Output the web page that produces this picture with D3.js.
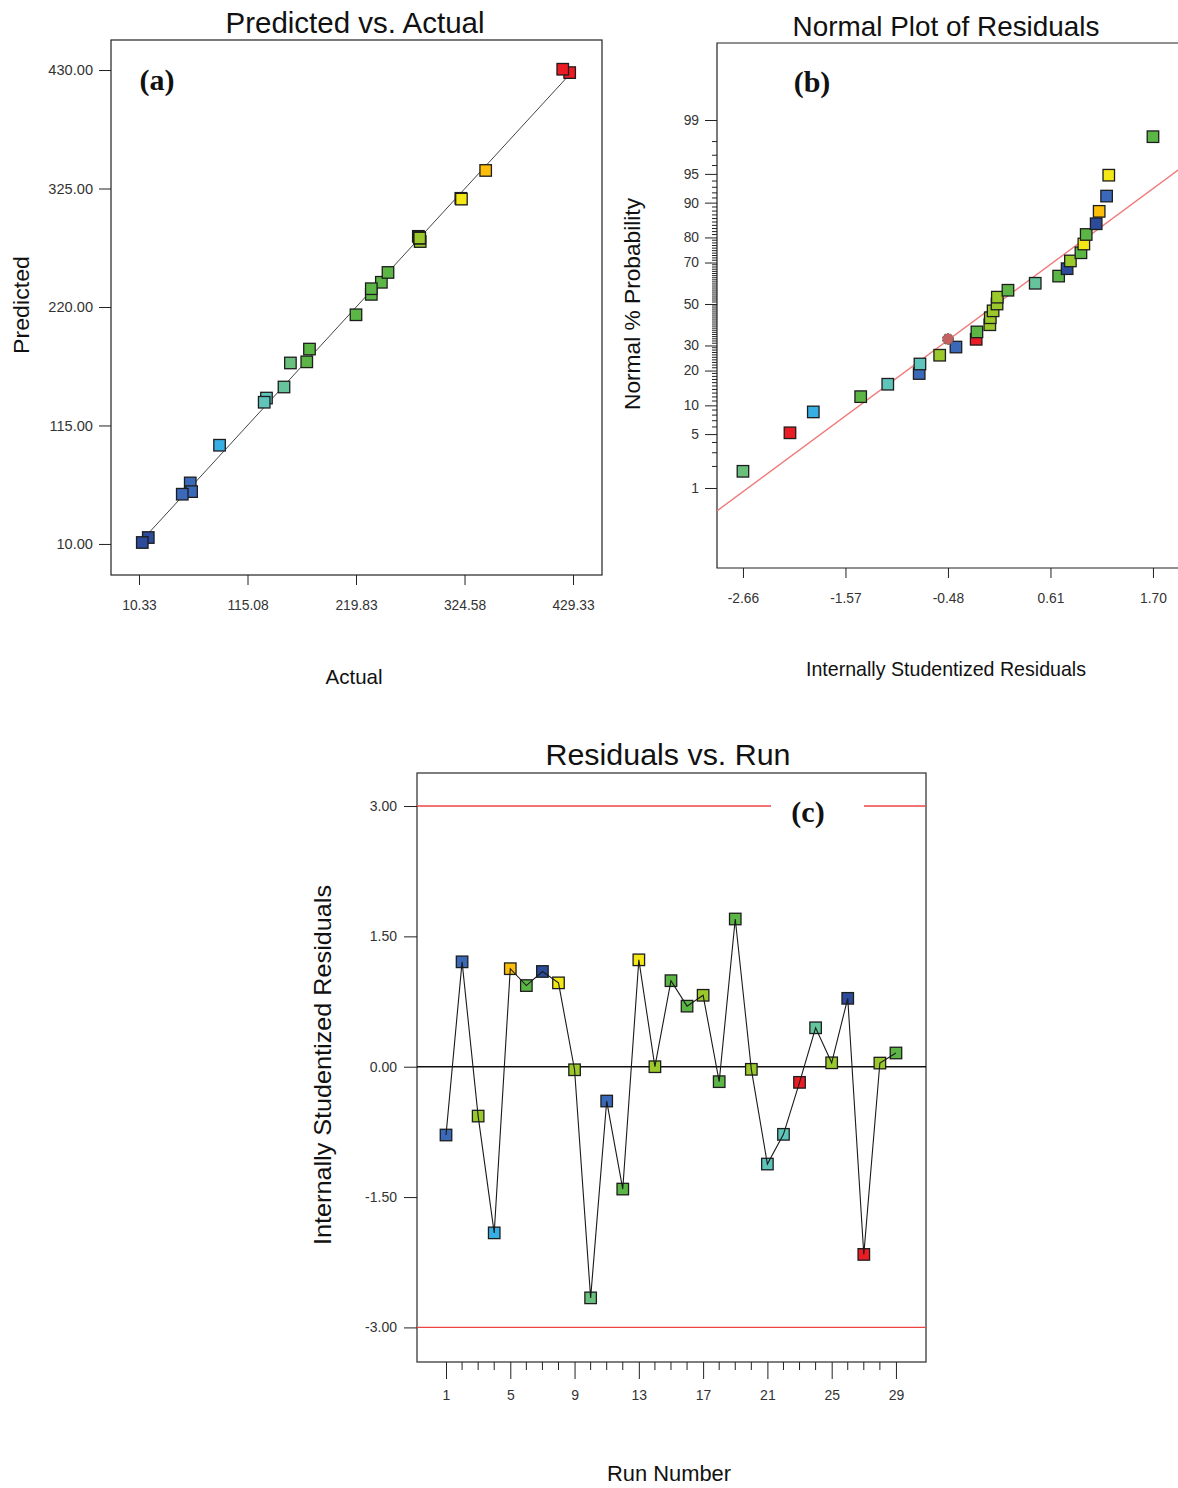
<!DOCTYPE html>
<html><head><meta charset="utf-8">
<script src="https://cdn.jsdelivr.net/npm/d3@7"></script>
<style>
body{margin:0;background:#fff}
svg{display:block}
text{font-family:"Liberation Sans",Arial,sans-serif}
</style>
</head><body>
<svg id="chart" width="1178" height="1488"></svg>
<script>
// ---------------- DATA ----------------
const runNumbers = [1,2,3,4,5,6,7,8,9,10,11,12,13,14,15,16,17,18,19,20,21,22,23,24,25,26,27,28,29];
const runResiduals = [-0.786,1.207,-0.568,-1.912,1.128,0.934,1.096,0.965,-0.035,-2.66,-0.395,-1.408,1.23,0.0,0.99,0.697,0.822,-0.172,1.70,-0.03,-1.12,-0.778,-0.18,0.448,0.045,0.787,-2.16,0.042,0.158];
const runColorGroup = ["blue","blue","yellowGreen","sky","orange","green","darkBlue","yellow","yellowGreen","mint","blue","green","yellow","yellowGreen","green","green","yellowGreen","green","green","yellowGreen","teal","teal","red","seaGreen","yellowGreen","darkBlue","red","yellowGreen","green"];
const actualValues = [59.8,61.1,280.0,88.1,345.0,244.3,19.3,321.0,281.0,156.5,52.1,174.9,321.6,281.2,234.6,250.7,281.8,172.3,219.8,281.0,133.4,131.2,426.1,150.3,281.3,13.5,419.4,281.3,234.6];
const predictedValues = [64.1,56.4,282.6,97.5,341.0,241.9,15.7,316.3,281.3,170.4,54.1,182.7,315.6,281.2,231.2,250.6,278.0,171.4,213.1,281.4,139.3,135.6,427.7,149.1,281.0,11.3,430.7,281.1,236.2];
const groupColors = {darkBlue:"#2d4b9b",blue:"#3b69b9",sky:"#38afe4",teal:"#5fc4ba",seaGreen:"#66c49c",mint:"#6abf7c",green:"#5cb646",yellowGreen:"#9bc82a",yellow:"#f3e715",orange:"#fcbe0a",red:"#ec1c24"};

// panel (b): normal % probability for each rank of sorted residuals
const normalPercent = [1.72,5.17,8.62,12.07,15.52,18.97,22.41,25.86,29.31,32.76,36.21,39.66,43.10,46.55,50.00,53.45,56.90,60.34,63.79,67.24,70.69,74.14,77.59,81.03,84.48,87.93,91.38,94.83,98.28];
const fitLineResidual = [-2.936, 2.147];
const fitLinePercent = [0.445, 96.8];
const markerResidual = -0.48, markerPercent = 32.9;

// tick labels
const aXTicks = [10.33,115.08,219.83,324.58,429.33];
const aYTicks = [10,115,220,325,430];
const diagLine = [10.33,429.33];
const bXTicks = [-2.66,-1.57,-0.48,0.61,1.70];
const bYMajor = [1,5,10,20,30,50,70,80,90,95,99];
const bYMinor = d3.range(2,99).filter(p => !bYMajor.includes(p));
const cXMajor = [1,5,9,13,17,21,25,29];
const cYTicks = [3,1.5,0,-1.5,-3];
const limitValues = [3,-3];

// ---------------- HELPERS ----------------
function probit(p){
  const a=[-3.969683028665376e+01,2.209460984245205e+02,-2.759285104469687e+02,1.383577518672690e+02,-3.066479806614716e+01,2.506628277459239e+00];
  const b=[-5.447609879822406e+01,1.615858368580409e+02,-1.556989798598866e+02,6.680131188771972e+01,-1.328068155288572e+01];
  const c=[-7.784894002430293e-03,-3.223964580411365e-01,-2.400758277161838e+00,-2.549671361984919e+00,4.374664141464968e+00,2.938163982698783e+00];
  const d=[7.784695709041462e-03,3.224671290700398e-01,2.445134137142996e+00,3.754408661907416e+00];
  const pl=0.02425, ph=1-pl; let q,r;
  if(p<pl){q=Math.sqrt(-2*Math.log(p));return (((((c[0]*q+c[1])*q+c[2])*q+c[3])*q+c[4])*q+c[5])/((((d[0]*q+d[1])*q+d[2])*q+d[3])*q+1);}
  if(p>ph){q=Math.sqrt(-2*Math.log(1-p));return -(((((c[0]*q+c[1])*q+c[2])*q+c[3])*q+c[4])*q+c[5])/((((d[0]*q+d[1])*q+d[2])*q+d[3])*q+1);}
  q=p-0.5;r=q*q;return (((((a[0]*r+a[1])*r+a[2])*r+a[3])*r+a[4])*r+a[5])*q/(((((b[0]*r+b[1])*r+b[2])*r+b[3])*r+b[4])*r+1);
}
const svg = d3.select("#chart");
function label(x,y,s,size,len,opts={}){
  const t = svg.append("text").attr("x",x).attr("y",y).attr("text-anchor","middle")
    .attr("font-size",size).attr("fill",opts.fill||"#111").text(s);
  if(len) t.attr("textLength",len).attr("lengthAdjust","spacingAndGlyphs");
  if(opts.rotate) t.attr("x",0).attr("y",0).attr("transform",`translate(${x},${y}) rotate(-90)`);
  if(opts.serif) t.style("font-family",'"Liberation Serif","Times New Roman",serif').attr("font-weight","bold");
  return t;
}
function styleAxis(g,size){
  g.select(".domain").remove();
  g.selectAll(".tick line").attr("stroke","#222");
  g.selectAll(".tick text").attr("fill","#333").attr("font-size",size).style("font-family",'"Liberation Sans",Arial,sans-serif');
}
const fmt2 = d => d.toFixed(2);
const SQ = 11.5;
function squares(g, data, xs, ys, xf, yf){
  g.selectAll("rect.pt").data(data).join("rect").attr("class","pt")
    .attr("x",d=>xs(xf(d))-SQ/2).attr("y",d=>ys(yf(d))-SQ/2)
    .attr("width",SQ).attr("height",SQ)
    .attr("fill",d=>groupColors[d.group]).attr("stroke","#1d1d1d").attr("stroke-width",1.3);
}
const runs = runNumbers.map((n,i)=>({run:n,res:runResiduals[i],group:runColorGroup[i],act:actualValues[i],pred:predictedValues[i]}));

// ---------------- PANEL (a) ----------------
{
  const ax = d3.scaleLinear().domain([-16.7,457.3]).range([111,602]);
  const ay = d3.scaleLinear().domain([-17.5,456.6]).range([575,40]);
  const g = svg.append("g");
  g.append("rect").attr("x",ax.range()[0]).attr("y",ay.range()[1]).attr("width",ax.range()[1]-ax.range()[0]).attr("height",ay.range()[0]-ay.range()[1]).attr("fill","none").attr("stroke","#222").attr("stroke-width",1.2);
  const gx = g.append("g").attr("transform",`translate(0,${ay.range()[0]})`).call(d3.axisBottom(ax).tickValues(aXTicks).tickSize(10).tickPadding(15).tickFormat(fmt2));
  styleAxis(gx,13.8);
  const gy = g.append("g").attr("transform",`translate(${ax.range()[0]},0)`).call(d3.axisLeft(ay).tickValues(aYTicks).tickSize(12).tickPadding(6).tickFormat(fmt2));
  styleAxis(gy,14.6);
  g.append("line").attr("x1",ax(diagLine[0])).attr("y1",ay(diagLine[0])).attr("x2",ax(diagLine[1])).attr("y2",ay(diagLine[1])).attr("stroke","#444").attr("stroke-width",1);
  squares(g, runs, ax, ay, d=>d.act, d=>d.pred);
  label(355,33,"Predicted vs. Actual",29,259);
  label(354,684,"Actual",21,57);
  label(29,305,"Predicted",22,98,{rotate:true});
  label(157,90,"(a)",30,null,{serif:true});
}

// ---------------- PANEL (b) ----------------
{
  const bx = d3.scaleLinear().domain([-2.936,2.147]).range([717,1195]);
  const bz = d3.scaleLinear().domain([-3.338,3.30]).range([568,43]);
  const g = svg.append("g");
  const [L,R] = bx.range(), [B,T] = bz.range();
  g.append("path").attr("d",`M${R},${T}H${L}V${B}H${R}`).attr("fill","none").attr("stroke","#222").attr("stroke-width",1.2);
  const gx = g.append("g").attr("transform",`translate(0,${B})`).call(d3.axisBottom(bx).tickValues(bXTicks).tickSize(10).tickPadding(15).tickFormat(fmt2));
  styleAxis(gx,13.8);
  const gy = g.append("g").attr("transform",`translate(${L},0)`).call(d3.axisLeft(bz).tickValues(bYMajor.map(p=>probit(p/100))).tickSize(12).tickPadding(6).tickFormat((d,i)=>bYMajor[i]));
  styleAxis(gy,13.8);
  g.append("g").selectAll("line").data(bYMinor).join("line")
    .attr("x1",L-5).attr("x2",L).attr("y1",p=>bz(probit(p/100))).attr("y2",p=>bz(probit(p/100))).attr("stroke","#222").attr("stroke-width",1);
  svg.append("clipPath").attr("id","clipB").append("rect").attr("x",L).attr("y",T).attr("width",R-L).attr("height",B-T);
  g.append("line").attr("clip-path","url(#clipB)")
    .attr("x1",bx(fitLineResidual[0])).attr("y1",bz(probit(fitLinePercent[0]/100)))
    .attr("x2",bx(fitLineResidual[1])).attr("y2",bz(probit(fitLinePercent[1]/100)))
    .attr("stroke","#f07a7a").attr("stroke-width",1.4);
  const sorted = d3.sort(runs, d=>d.res).map((d,i)=>({...d,pct:normalPercent[i]}));
  squares(g, sorted, bx, bz, d=>d.res, d=>probit(d.pct/100));
  g.append("circle").attr("cx",bx(markerResidual)).attr("cy",bz(probit(markerPercent/100))).attr("r",5.5)
    .attr("fill","#c2615f").attr("stroke","#555").attr("stroke-width",1).attr("stroke-dasharray","2,1.5");
  label(946,36,"Normal Plot of Residuals",28,307);
  label(946,676,"Internally Studentized Residuals",21,280);
  label(640,304,"Normal % Probability",22,212,{rotate:true});
  label(812,92,"(b)",30,null,{serif:true});
}

// ---------------- PANEL (c) ----------------
{
  const cx = d3.scaleLinear().domain([-0.805,30.87]).range([417,926]);
  const cy = d3.scaleLinear().domain([-3.398,3.38]).range([1362,773]);
  const g = svg.append("g");
  const [L,R] = cx.range(), [B,T] = cy.range();
  g.append("rect").attr("x",L).attr("y",T).attr("width",R-L).attr("height",B-T).attr("fill","none").attr("stroke","#3a3a3a").attr("stroke-width",1.3);
  const gx = g.append("g").attr("transform",`translate(0,${B})`).call(d3.axisBottom(cx).tickValues(cXMajor).tickSize(17).tickPadding(11).tickFormat(d3.format("d")));
  styleAxis(gx,14);
  g.append("g").selectAll("line").data(runNumbers.filter(n=>!cXMajor.includes(n))).join("line")
    .attr("x1",n=>cx(n)).attr("x2",n=>cx(n)).attr("y1",B).attr("y2",B+8).attr("stroke","#222");
  const gy = g.append("g").attr("transform",`translate(${L},0)`).call(d3.axisLeft(cy).tickValues(cYTicks).tickSize(13).tickPadding(7).tickFormat(fmt2));
  styleAxis(gy,14);
  g.selectAll("line.limit").data(limitValues).join("line").attr("class","limit")
    .attr("x1",L).attr("x2",R).attr("y1",v=>cy(v)).attr("y2",v=>cy(v)).attr("stroke","#ee4444").attr("stroke-width",1.4);
  g.append("line").attr("x1",L).attr("x2",R).attr("y1",cy(0)).attr("y2",cy(0)).attr("stroke","#111").attr("stroke-width",1.4);
  squares(g, runs, cx, cy, d=>d.run, d=>d.res);
  g.append("path").datum(runs).attr("d",d3.line().x(d=>cx(d.run)).y(d=>cy(d.res)))
    .attr("fill","none").attr("stroke","#1a1a1a").attr("stroke-width",1.1);
  g.append("rect").attr("x",771).attr("y",795).attr("width",93).attr("height",36).attr("fill","#fff");
  label(808,822,"(c)",30,null,{serif:true});
  label(668,765,"Residuals vs. Run",29,245);
  label(669,1481,"Run Number",22,124);
  label(331,1065,"Internally Studentized Residuals",24,360,{rotate:true});
}
</script>
</body></html>
